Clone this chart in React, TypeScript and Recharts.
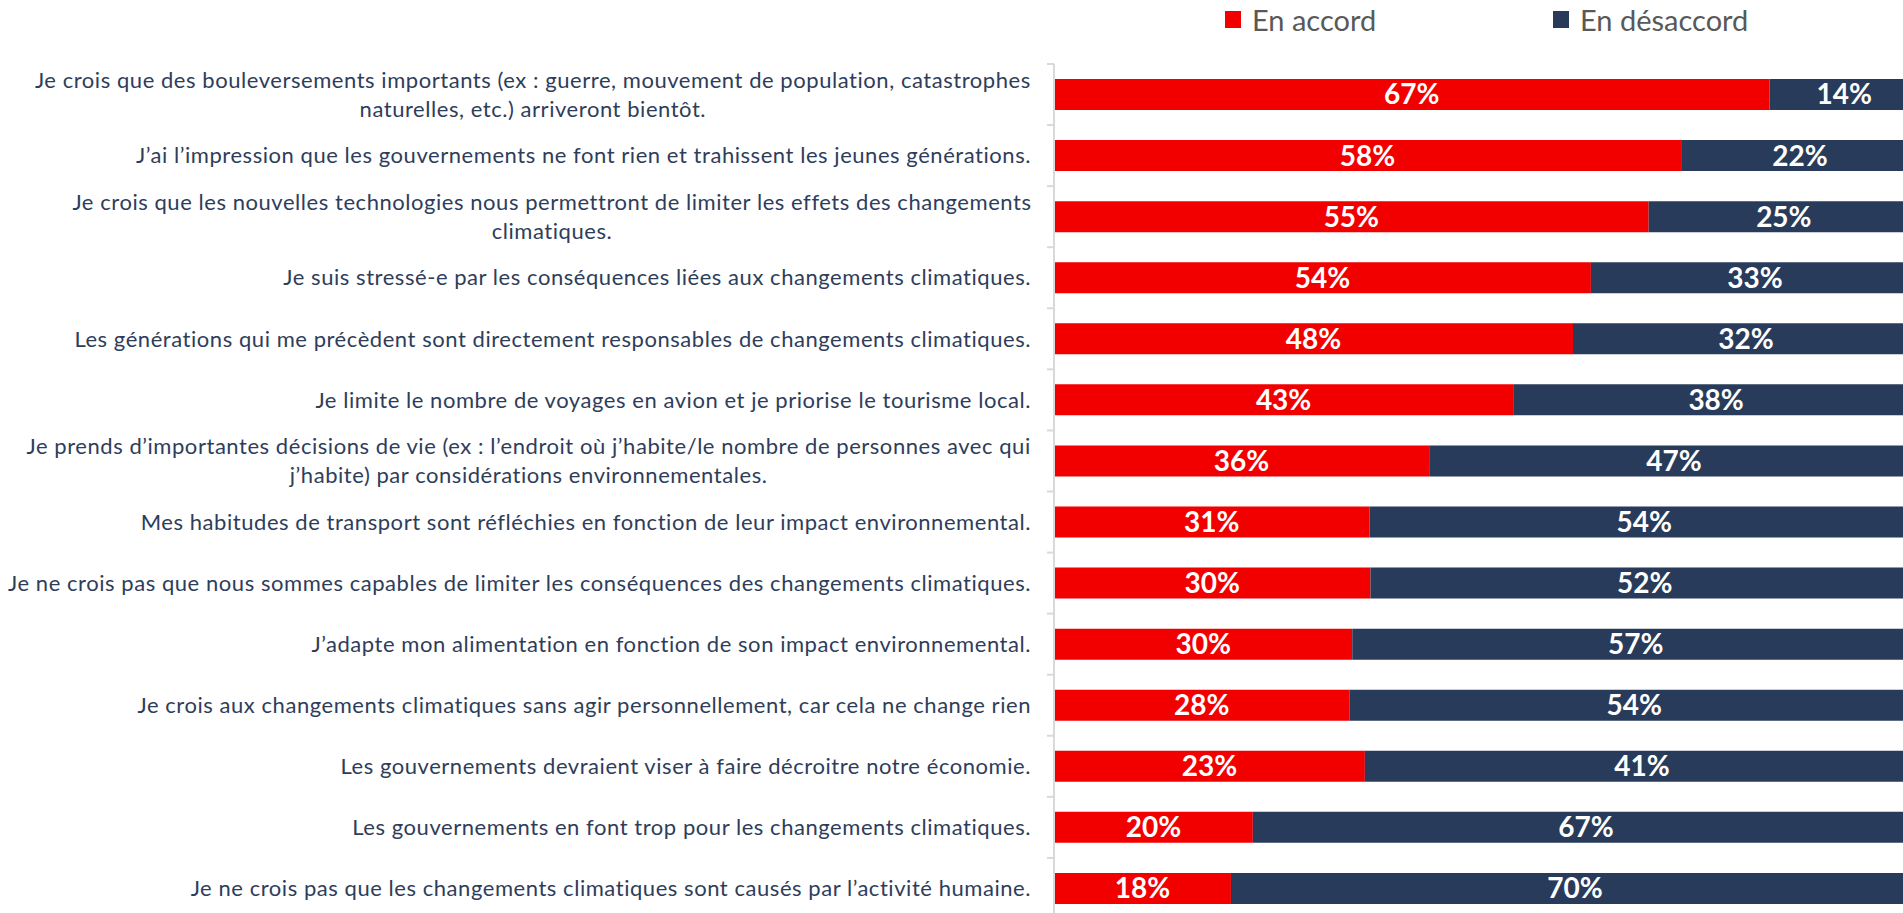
import React from 'react';
import { BarChart, Bar, XAxis, YAxis, Legend, LabelList } from 'recharts';

// libellés (retours à la ligne comme dans l'original)
const statements = [
  'Je crois que des bouleversements importants (ex : guerre, mouvement de population, catastrophes\nnaturelles, etc.) arriveront bientôt.',
  'J’ai l’impression que les gouvernements ne font rien et trahissent les jeunes générations.',
  'Je crois que les nouvelles technologies nous permettront de limiter les effets des changements\nclimatiques.',
  'Je suis stressé-e par les conséquences liées aux changements climatiques.',
  'Les générations qui me précèdent sont directement responsables de changements climatiques.',
  'Je limite le nombre de voyages en avion et je priorise le tourisme local.',
  'Je prends d’importantes décisions de vie (ex : l’endroit où j’habite/le nombre de personnes avec qui\nj’habite) par considérations environnementales.',
  'Mes habitudes de transport sont réfléchies en fonction de leur impact environnemental.',
  'Je ne crois pas que nous sommes capables de limiter les conséquences des changements climatiques.',
  'J’adapte mon alimentation en fonction de son impact environnemental.',
  'Je crois aux changements climatiques sans agir personnellement, car cela ne change rien',
  'Les gouvernements devraient viser à faire décroitre notre économie.',
  'Les gouvernements en font trop pour les changements climatiques.',
  'Je ne crois pas que les changements climatiques sont causés par l’activité humaine.',
];

const enAccord = [67, 58, 55, 54, 48, 43, 36, 31, 30, 30, 28, 23, 20, 18];
const enDesaccord = [14, 22, 25, 33, 32, 38, 47, 54, 52, 57, 54, 41, 67, 70];

const seriesNames = ['En accord', 'En désaccord'];
const seriesColors = ['#F20000', '#283B5B'];

const data = statements.map((s, i) => ({
  statement: s,
  accord: enAccord[i],
  desaccord: enDesaccord[i],
}));

const FONT = 'Lato, "Open Sans", sans-serif';
const TICK_SIZE = 22;
const TICK_SPACING = 0.55;
const TOP = 64;
const LEGEND_H = 40;
const PLOT_H = 855;
const BAND = PLOT_H / statements.length;

let ctx: CanvasRenderingContext2D | null = null;
function textWidth(t: string, size: number) {
  if (!ctx) ctx = document.createElement('canvas').getContext('2d');
  if (!ctx) return t.length * size * 0.5;
  ctx.font = `${size}px Lato`;
  return ctx.measureText(t).width + t.length * TICK_SPACING;
}

const StatementTick = (props: any) => {
  const { x, y, payload } = props;
  const lines: string[] = String(payload.value).split('\n');
  const right = x - 23;
  const lineH = 29;
  const top = y - BAND / 2;
  const common = {
    fontSize: TICK_SIZE,
    fill: '#2E3D5A',
    fontFamily: FONT,
    letterSpacing: TICK_SPACING,
    dy: '0.35em',
  };
  return (
    <g>
      <line x1={x - 7} x2={x} y1={top} y2={top} stroke="#D9D9D9" strokeWidth={2} />
      {lines.length === 1 ? (
        <text x={right} y={y} textAnchor="end" {...common}>
          {lines[0]}
        </text>
      ) : (
        lines.map((l, i) => {
          const w = textWidth(lines[0], TICK_SIZE);
          return (
            <text
              key={i}
              x={right - w / 2}
              y={y + (i - (lines.length - 1) / 2) * lineH}
              textAnchor="middle"
              {...common}
            >
              {l}
            </text>
          );
        })
      )}
    </g>
  );
};

const TopLegend = () => (
  <div style={{ position: 'relative', height: LEGEND_H, fontFamily: FONT, fontSize: 29, color: '#595959' }}>
    {seriesNames.map((n, i) => (
      <div
        key={n}
        style={{ position: 'absolute', left: i === 0 ? 1225 : 1553, top: 2, display: 'flex', alignItems: 'center', whiteSpace: 'nowrap' }}
      >
        <span style={{ width: 16, height: 17, background: seriesColors[i], display: 'inline-block', marginRight: 11 }} />
        <span>{n}</span>
      </div>
    ))}
  </div>
);

export default function App() {
  return (
    <div style={{ position: 'fixed', left: 0, top: 0, width: 1903, height: 913, overflow: 'hidden', background: '#fff' }}>
      <BarChart
        width={1925}
        height={TOP + PLOT_H + 6}
        data={data}
        layout="vertical"
        stackOffset="expand"
        barSize={31}
        margin={{ top: TOP - LEGEND_H, right: 6, bottom: 6, left: 0 }}
      >
        <XAxis type="number" hide domain={[0, 1]} />
        <YAxis
          type="category"
          dataKey="statement"
          width={1054}
          axisLine={{ stroke: '#D9D9D9', strokeWidth: 2 }}
          tickLine={false}
          tickSize={0}
          tickMargin={0}
          tick={<StatementTick />}
          interval={0}
        />
        <Legend
          verticalAlign="top"
          content={<TopLegend />}
          wrapperStyle={{ top: 0, left: 0, width: 1903, height: LEGEND_H }}
        />
        <Bar dataKey="accord" name={seriesNames[0]} stackId="a" fill={seriesColors[0]} isAnimationActive={false}>
          <LabelList
            dataKey="accord"
            position="center"
            formatter={(v: any) => `${v}%`}
            fill="#FFFFFF"
            fontSize={28}
            fontWeight={700}
            fontFamily={FONT}
          />
        </Bar>
        <Bar dataKey="desaccord" name={seriesNames[1]} stackId="a" fill={seriesColors[1]} isAnimationActive={false}>
          <LabelList
            dataKey="desaccord"
            position="center"
            formatter={(v: any) => `${v}%`}
            fill="#FFFFFF"
            fontSize={28}
            fontWeight={700}
            fontFamily={FONT}
          />
        </Bar>
      </BarChart>
    </div>
  );
}
